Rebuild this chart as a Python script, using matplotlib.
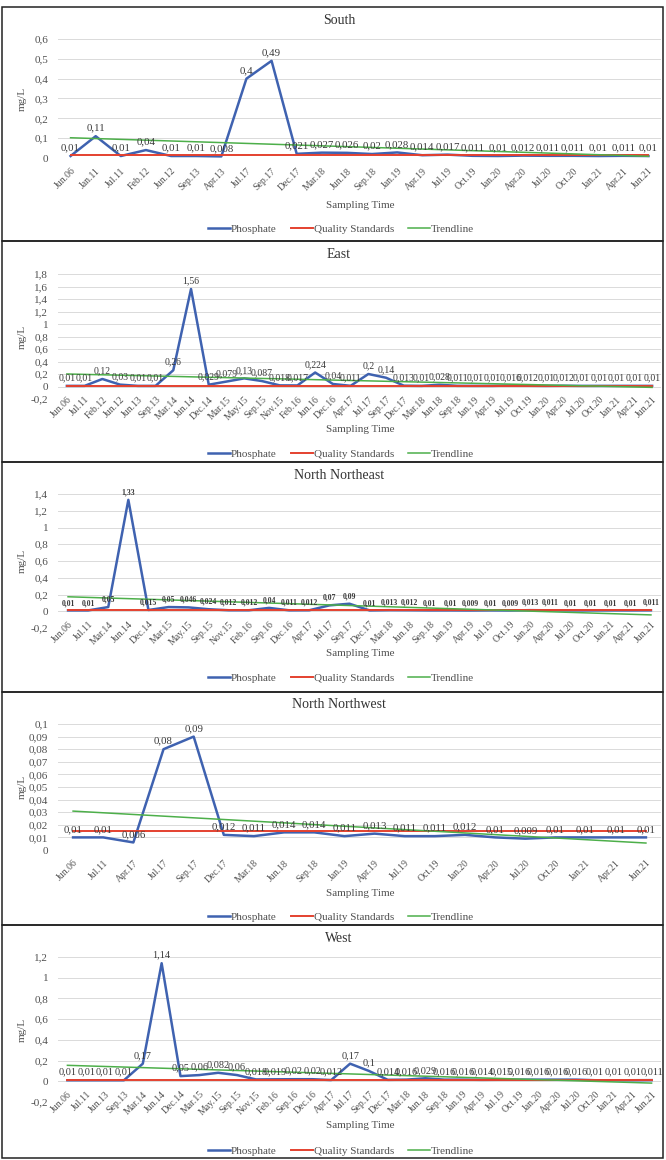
import numpy as np
import matplotlib
matplotlib.use('Agg')
import matplotlib.pyplot as plt
from matplotlib.lines import Line2D
from matplotlib.patches import Rectangle
from matplotlib.ticker import FuncFormatter, MultipleLocator

plt.rcParams['font.family'] = ['Liberation Serif', 'DejaVu Serif']

W, H = 666, 1160
QUALITY_STANDARD = 0.015

south_dates = ['Jun.06', 'Jan.11', 'Jul.11', 'Feb.12', 'Jun.12', 'Sep.13', 'Apr.13',
               'Jul.17', 'Sep.17', 'Dec.17', 'Mar.18', 'Jun.18', 'Sep.18', 'Jan.19',
               'Apr.19', 'Jul.19', 'Oct.19', 'Jan.20', 'Apr.20', 'Jul.20', 'Oct.20',
               'Jan.21', 'Apr.21', 'Jun.21']
south_po4 = [0.01, 0.11, 0.01, 0.04, 0.01, 0.01, 0.008, 0.4, 0.49, 0.021, 0.027,
             0.026, 0.02, 0.028, 0.014, 0.017, 0.011, 0.01, 0.012, 0.011, 0.011,
             0.01, 0.011, 0.010]

east_dates = ['Jun.06', 'Jul.11', 'Feb.12', 'Jun.12', 'Jun.13', 'Sep.13', 'Mar.14',
              'Jun.14', 'Dec.14', 'Mar.15', 'May.15', 'Sep.15', 'Nov.15', 'Feb.16',
              'Jun.16', 'Dec.16', 'Apr.17', 'Jul.17', 'Sep.17', 'Dec.17', 'Mar.18',
              'Jun.18', 'Sep.18', 'Jan.19', 'Apr.19', 'Jul.19', 'Oct.19', 'Jan.20',
              'Apr.20', 'Jul.20', 'Oct.20', 'Jan.21', 'Apr.21', 'Jun.21']
east_po4 = [0.01, 0.01, 0.12, 0.03, 0.01, 0.01, 0.26, 1.56, 0.029, 0.079, 0.13,
            0.087, 0.018, 0.017, 0.224, 0.04, 0.011, 0.2, 0.14, 0.013, 0.01, 0.028,
            0.011, 0.01, 0.01, 0.016, 0.012, 0.01, 0.012, 0.01, 0.01, 0.01, 0.01,
            0.010]

nne_dates = ['Jun.06', 'Jul.11', 'Mar.14', 'Jun.14', 'Dec.14', 'Mar.15', 'May.15',
             'Sep.15', 'Nov.15', 'Feb.16', 'Sep.16', 'Dec.16', 'Apr.17', 'Jul.17',
             'Sep.17', 'Dec.17', 'Mar.18', 'Jun.18', 'Sep.18', 'Jan.19', 'Apr.19',
             'Jul.19', 'Oct.19', 'Jan.20', 'Apr.20', 'Jul.20', 'Oct.20', 'Jan.21',
             'Apr.21', 'Jun.21']
nne_po4 = [0.01, 0.01, 0.05, 1.33, 0.015, 0.05, 0.046, 0.024, 0.012, 0.012, 0.04,
           0.011, 0.012, 0.07, 0.09, 0.01, 0.013, 0.012, 0.01, 0.01, 0.009, 0.01,
           0.009, 0.013, 0.011, 0.01, 0.01, 0.01, 0.010, 0.011]

nnw_dates = ['Jun.06', 'Jul.11', 'Apr.17', 'Jul.17', 'Sep.17', 'Dec.17', 'Mar.18',
             'Jun.18', 'Sep.18', 'Jan.19', 'Apr.19', 'Jul.19', 'Oct.19', 'Jan.20',
             'Apr.20', 'Jul.20', 'Oct.20', 'Jan.21', 'Apr.21', 'Jun.21']
nnw_po4 = [0.01, 0.01, 0.006, 0.08, 0.09, 0.012, 0.011, 0.014, 0.014, 0.011, 0.013,
           0.011, 0.011, 0.012, 0.01, 0.009, 0.01, 0.01, 0.010, 0.010]

west_dates = ['Jun.06', 'Jul.11', 'Jun.13', 'Sep.13', 'Mar.14', 'Jun.14', 'Dec.14',
              'Mar.15', 'May.15', 'Sep.15', 'Nov.15', 'Feb.16', 'Sep.16', 'Dec.16',
              'Apr.17', 'Jul.17', 'Sep.17', 'Dec.17', 'Mar.18', 'Jun.18', 'Sep.18',
              'Jan.19', 'Apr.19', 'Jul.19', 'Oct.19', 'Jan.20', 'Apr.20', 'Jul.20',
              'Oct.20', 'Jan.21', 'Apr.21', 'Jun.21']
west_po4 = [0.01, 0.01, 0.01, 0.01, 0.17, 1.14, 0.05, 0.06, 0.082, 0.06, 0.018,
            0.019, 0.02, 0.02, 0.012, 0.17, 0.1, 0.014, 0.016, 0.029, 0.016, 0.016,
            0.014, 0.015, 0.016, 0.016, 0.016, 0.016, 0.01, 0.01, 0.010, 0.011]

BLUE = '#3F62B0'
RED = '#E4412F'
GREEN = '#4DAF4A'
TXT = '#505050'


def comma(v, pos=None):
    if abs(v) < 1e-9:
        return '0'
    return '{:g}'.format(round(v, 4)).replace('.', ',')


def fig_box(left, top, right, bottom):
    return [left / W, 1 - bottom / H, (right - left) / W, (bottom - top) / H]


def draw_panel(fig, layout, title, dates, po4, ylim, ystep, lab_size=7.2, bold=False):
    ftop, fbot, ptop, pbot, xlab_y, leg_y = layout
    fig.patches.append(Rectangle((2 / W, 1 - fbot / H), 661 / W, (fbot - ftop) / H,
                                 transform=fig.transFigure, fill=False,
                                 edgecolor='#222222', linewidth=1.1))
    ax = fig.add_axes(fig_box(58, ptop, 661, pbot))
    # category labels sit next to the zero line, as in a spreadsheet chart
    ax.spines['bottom'].set_position(('data', 0))

    x = np.arange(len(dates))
    y = np.array(po4)
    # linear trend of the phosphate series
    slope, icpt = np.polyfit(x, y, 1)

    ax.plot(x, y, color=BLUE, lw=1.8, zorder=3)
    ax.plot(x, np.full(len(x), QUALITY_STANDARD), color=RED, lw=1.4, zorder=4)
    ax.plot(x, slope * x + icpt, color=GREEN, lw=1.1, zorder=5)

    for xi, yi in zip(x, y):
        ax.annotate(comma(yi), (xi, yi), xytext=(0, 2.5), textcoords='offset points',
                    ha='center', va='bottom', fontsize=lab_size, color='#3a3a3a',
                    fontweight='bold' if bold else 'normal', zorder=6)

    ax.set_xlim(-0.5, len(dates) - 0.5)
    ax.set_ylim(*ylim)
    ax.yaxis.set_major_locator(MultipleLocator(ystep))
    ax.yaxis.set_major_formatter(FuncFormatter(comma))
    ax.set_xticks(x)
    ax.set_xticklabels(dates, rotation=45, ha='right', rotation_mode='anchor',
                       fontsize=7.0, color=TXT)
    ax.tick_params(axis='y', labelsize=8, labelcolor=TXT, length=0, pad=7)
    ax.tick_params(axis='x', length=0, pad=6)
    ax.grid(axis='y', color='#DADADA', lw=0.7)
    ax.set_axisbelow(True)
    for s in ax.spines.values():
        s.set_visible(False)

    fig.text(339 / W, 1 - (ftop + 13) / H, title, ha='center', va='center',
             fontsize=10, color='#333333')
    fig.text(22 / W, 1 - (ptop + pbot) / 2 / H, 'mg/L', rotation=90, ha='center',
             va='center', fontsize=8, color=TXT)
    fig.text(360 / W, 1 - xlab_y / H, 'Sampling Time', ha='center', va='center',
             fontsize=8, color=TXT)

    handles = [Line2D([], [], color=BLUE, lw=1.8),
               Line2D([], [], color=RED, lw=1.4),
               Line2D([], [], color=GREEN, lw=1.1)]
    fig.legend(handles, ['Phosphate', 'Quality Standards', 'Trendline'],
               loc='center', bbox_to_anchor=(341 / W, 1 - leg_y / H),
               ncol=3, frameon=False, fontsize=8, handlelength=2.0,
               handletextpad=0.05, columnspacing=1.3, labelcolor=TXT,
               borderpad=0, borderaxespad=0)
    return ax


fig = plt.figure(figsize=(W / 100, H / 100), dpi=100)
fig.patch.set_facecolor('white')

draw_panel(fig, (7, 241, 39, 158, 205, 229), 'South', south_dates, south_po4,
           (0, 0.6), 0.1, lab_size=7.8)
draw_panel(fig, (241, 462, 274, 399, 430, 454), 'East', east_dates, east_po4,
           (-0.2, 1.8), 0.2, lab_size=7.0)
draw_panel(fig, (462, 692, 494, 628, 653, 678), 'North Northeast', nne_dates, nne_po4,
           (-0.2, 1.4), 0.2, lab_size=5.6, bold=True)
draw_panel(fig, (692, 925, 724, 850, 893, 917), 'North Northwest', nnw_dates, nnw_po4,
           (0, 0.1), 0.01, lab_size=7.8)
draw_panel(fig, (925, 1158, 957, 1102, 1125, 1151), 'West', west_dates, west_po4,
           (-0.2, 1.2), 0.2, lab_size=7.4)

fig.savefig('out.png', dpi=100)
